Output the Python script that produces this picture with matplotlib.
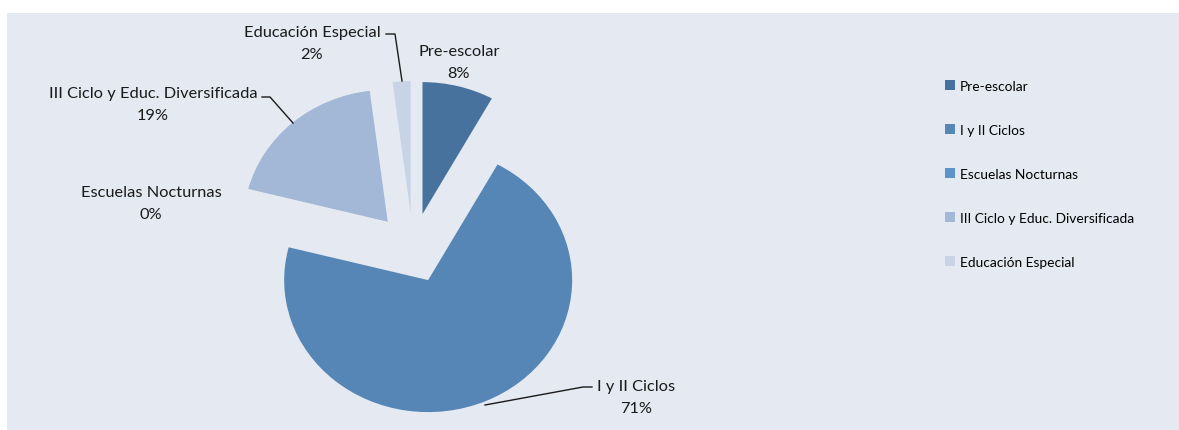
import matplotlib
matplotlib.use("Agg")
import matplotlib.pyplot as plt
from matplotlib.patches import Rectangle, Patch

categories = ["Pre-escolar", "I y II Ciclos", "Escuelas Nocturnas",
              "III Ciclo y Educ. Diversificada", "Educación Especial"]
values = [8, 71, 0, 19, 2]
pct_labels = ["8%", "71%", "0%", "19%", "2%"]
colors = ["#48729e", "#5686b6", "#5b93ca", "#a3b7d7", "#c8d4e6"]

W, H = 1179, 431
fig = plt.figure(figsize=(W / 100, H / 100), dpi=100)
fig.patch.set_facecolor("white")
fig.patches.append(Rectangle((7 / W, 0), 1 - 7 / W, 1 - 14 / H,
                             transform=fig.transFigure, facecolor="#e5eaf2",
                             edgecolor="none", zorder=-10))

ax = fig.add_axes([0, 0, 1, 1])
ax.set_facecolor("none")
ax.patch.set_alpha(0)
cx, cy, rx, ry = 413, 249, 144, 132

ax.pie(values, colors=colors, startangle=90, counterclock=False,
       explode=[0.265] * len(values), radius=1.0,
       wedgeprops=dict(linewidth=0), frame=False)
ax.set_xlim(-cx / rx, (W - cx) / rx)
ax.set_ylim(-(H - cy) / ry, cy / ry)
ax.set_aspect("auto")
ax.axis("off")


def P(x, y):
    return ((x - cx) / rx, (cy - y) / ry)


FONT = "Lato"
fs = 11.8
label_pos = [(459, 63), (636, 398), (151, 204), (153, 105), (312, 44)]
for name, pct, (lx, ly) in zip(categories, pct_labels, label_pos):
    x, y = P(lx, ly)
    ax.text(x, y, name + "\n" + pct, ha="center", va="center",
            fontsize=fs, family=FONT, color="#1a1a1a", linespacing=1.7)

leaders = [
    [(386, 35), (395, 35), (402, 82)],
    [(262, 98), (270, 98), (293, 124)],
    [(592, 388), (583, 388), (485, 406)],
]
for pts in leaders:
    xs, ys = zip(*[P(a, b) for a, b in pts])
    ax.plot(xs, ys, color="#1a1a1a", linewidth=1.0)

handles = [Patch(facecolor=c, edgecolor="none") for c in colors]
leg = fig.legend(handles, categories, loc="upper left",
                 bbox_to_anchor=(938 / W, 1 - 74 / H), frameon=False,
                 prop=dict(family=FONT, size=9.9), handlelength=0.7,
                 handleheight=0.7, handletextpad=0.4, labelspacing=2.33,
                 borderpad=0)

fig.savefig("out.png", dpi=100)
